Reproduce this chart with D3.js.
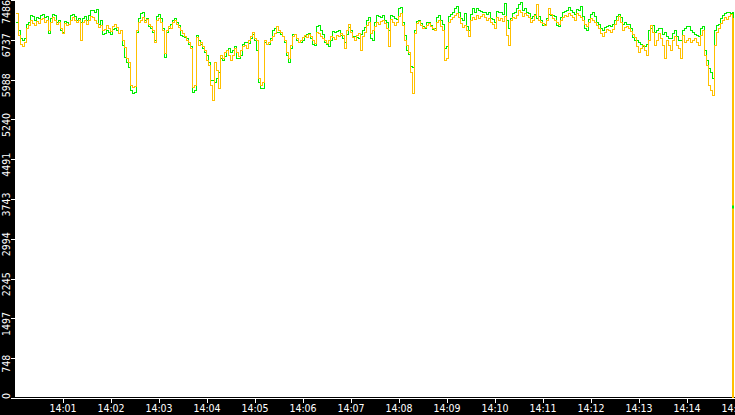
<!DOCTYPE html>
<html>
<head>
<meta charset="utf-8">
<script src="https://cdn.jsdelivr.net/npm/d3@7"></script>
<style>
  body { margin: 0; background: #000; overflow: hidden; }
  svg { display: block; }
  text { font-family: "DejaVu Sans Condensed", "DejaVu Sans", sans-serif; font-stretch: condensed; font-size: 10.5px; fill: #fff; }
</style>
</head>
<body>
<svg id="chart" width="735" height="415"></svg>
<script>
// main samples every 5 s from 14:00:02, the "mid" samples sit 2.5 s after each one,
// the last point is the drop at 14:14:59
const startTime = new Date(2024, 0, 1, 14, 0, 2);
const stepSeconds = 5;
const endTime = new Date(2024, 0, 1, 14, 14, 59);

const yTickLabels = [0, 748, 1497, 2245, 2994, 3743, 4491, 5240, 5988, 6737, 7486];
const xTickMinutes = [1, 2, 3, 4, 5, 6, 7, 8, 9, 10, 11, 12, 13, 14, 15];

const yellowValues = [
  7241, 6658, 6696, 7016, 7053, 7091, 7129, 7072, 6922, 7166,
  7035, 6959, 7053, 7035, 7166, 7072, 6734, 7110, 7110, 7166,
  7053, 7016, 6941, 6959, 6997, 6978, 6922, 6602, 6320, 5850,
  6922, 7110, 7072, 7035, 6922, 7110, 7072, 6489, 6997, 7072,
  7035, 6922, 6809, 6696, 5850, 6790, 6696, 6546, 6263, 5605,
  6169, 6451, 6508, 6451, 6451, 6508, 6546, 6640, 6734, 6884,
  6734, 5887, 6734, 6696, 6809, 6997, 6884, 6734, 6395, 6809,
  6771, 6734, 6828, 6846, 6734, 6884, 6809, 6734, 6734, 6790,
  6828, 6865, 6583, 7035, 6790, 6828, 6546, 6884, 7072, 6922,
  7072, 7091, 7053, 6621, 7072, 7072, 7241, 6734, 6508, 5737,
  7053, 7016, 6978, 7053, 6959, 7072, 6997, 6357, 7072, 7166,
  7241, 7053, 7016, 6809, 7166, 7204, 7185, 7166, 7147, 7035,
  7166, 7147, 7185, 6640, 7166, 7204, 7260, 7241, 7166, 7110,
  7411, 7072, 7016, 7336, 7147, 7072, 7110, 7204, 7241, 7166,
  7241, 7166, 7035, 7072, 7110, 7016, 6865, 6884, 6922, 6941,
  7110, 7072, 6978, 6959, 6846, 6621, 6583, 6546, 6734, 6884,
  6734, 6771, 6395, 6640, 6734, 6640, 6395, 6696, 6771, 6734,
  6696, 6828, 6451, 5887, 5699, 6884, 7053, 7166, 7185, 7147
];
const yellowMidValues = [
  6828, 6621, 6959, 7110, 7016, 7053, 7147, 7110, 7072, 7110,
  7072, 6865, 7016, 7110, 7110, 7110, 7072, 7035, 7185, 7110,
  6978, 6922, 7016, 6903, 7035, 6865, 6734, 6395, 5887, 5868,
  7072, 7166, 7129, 6997, 6696, 7147, 6922, 6922, 6959, 7110,
  6978, 6865, 6734, 6583, 5887, 6640, 6621, 6357, 5887, 6320,
  5831, 6395, 6546, 6357, 6583, 6433, 6621, 6583, 6809, 6771,
  6019, 5944, 6658, 6734, 6865, 6922, 6809, 6508, 6640, 6846,
  6696, 6790, 6790, 6809, 6677, 6865, 6771, 6677, 6809, 6752,
  6809, 6828, 6922, 6884, 6734, 6865, 6809, 7016, 6865, 6997,
  7035, 7110, 6959, 7129, 7016, 7185, 7016, 6640, 6132, 6865,
  7091, 6959, 7016, 6997, 6922, 7110, 6922, 6395, 7129, 7204,
  7166, 6978, 6922, 7110, 7129, 7147, 7223, 7110, 7072, 6959,
  7110, 7091, 6828, 7110, 7147, 7298, 7185, 7204, 7072, 7204,
  7110, 7053, 7110, 7223, 7110, 7035, 7166, 7185, 7204, 7110,
  7204, 7110, 6997, 7147, 7072, 6959, 6809, 6941, 6884, 7035,
  7185, 6922, 6997, 6903, 6790, 6508, 6640, 6451, 7016, 6640,
  6865, 6640, 6734, 6546, 6809, 6583, 6828, 6734, 6696, 6771,
  6640, 6922, 6263, 5793, 6640, 6959, 7110, 7129, 7223
];
const yellowLast = 0;

const greenValues = [
  7072, 6771, 6771, 7072, 7185, 7166, 7204, 7166, 6865, 7223,
  7072, 6922, 7091, 7035, 7223, 7110, 7072, 7185, 7204, 7298,
  7317, 7110, 6865, 6884, 6941, 6922, 6922, 6414, 6226, 5737,
  6884, 7241, 7110, 6997, 6884, 7185, 7147, 6414, 6959, 7110,
  7072, 6828, 6790, 6658, 5756, 6828, 6658, 6508, 6320, 5981,
  6019, 6395, 6433, 6583, 6546, 6395, 6451, 6696, 6677, 6846,
  6546, 5831, 6696, 6658, 6922, 6884, 6846, 6696, 6320, 6846,
  6734, 6696, 6809, 6865, 6658, 6997, 6922, 6696, 6621, 6903,
  6903, 6828, 6696, 6978, 6809, 6790, 6846, 6978, 7166, 6734,
  7204, 7166, 7110, 6922, 7185, 7129, 7354, 6828, 6470, 6226,
  7091, 7053, 6959, 7072, 6941, 7166, 7110, 6583, 7185, 7260,
  7373, 7147, 7241, 6922, 7336, 7336, 7279, 7260, 7260, 7129,
  7279, 7260, 7430, 6959, 7241, 7336, 7448, 7336, 7241, 7185,
  7147, 7110, 7035, 7223, 7204, 7016, 7166, 7279, 7354, 7260,
  7317, 7373, 6959, 7129, 7260, 7072, 6959, 6978, 7016, 7035,
  7185, 7166, 7072, 7035, 6790, 6734, 6658, 6621, 6922, 7016,
  6922, 6959, 6884, 6771, 6865, 6809, 6734, 6959, 6997, 6884,
  6828, 6959, 6546, 6207, 6019, 7016, 7147, 7241, 7260, 7260
];
const greenMidValues = [
  6922, 6734, 7035, 7204, 7110, 7147, 7223, 7185, 7147, 7204,
  7110, 6884, 7072, 7204, 7185, 7147, 7147, 7110, 7298, 7260,
  7035, 6846, 6922, 6846, 6959, 6865, 6640, 6320, 5793, 5756,
  7147, 7260, 7147, 6959, 6734, 7223, 6959, 6884, 7035, 7147,
  7016, 6809, 6771, 6621, 5793, 6734, 6583, 6451, 5981, 5944,
  6132, 6357, 6546, 6508, 6621, 6395, 6658, 6696, 6771, 6734,
  5944, 5831, 6658, 6771, 6959, 6884, 6809, 6451, 6583, 6846,
  6696, 6734, 6846, 6771, 6640, 7016, 6846, 6658, 6734, 6884,
  6922, 6771, 6846, 6922, 6809, 6771, 6922, 7110, 6771, 7072,
  7185, 7204, 7072, 7204, 7147, 7336, 7072, 6546, 6245, 6922,
  7110, 6997, 7072, 7016, 6959, 7204, 7035, 6621, 7223, 7336,
  7260, 7110, 6997, 7223, 7260, 7298, 7260, 7223, 7147, 7072,
  7260, 7223, 7110, 7147, 7260, 7411, 7298, 7260, 7147, 7223,
  7185, 7016, 7147, 7204, 7185, 6997, 7260, 7298, 7298, 7223,
  7298, 7185, 6922, 7223, 7185, 7035, 6922, 6997, 6997, 7110,
  7223, 7035, 7035, 6959, 6734, 6696, 6621, 6658, 6959, 6884,
  6959, 6846, 6809, 6771, 6922, 6734, 6922, 6997, 6922, 6846,
  6809, 6997, 6357, 6132, 6922, 7035, 7204, 7260, 7241
];
const greenLast = 3592;

const width = 735;
const height = 415;
const plotLeft = 15;
const plotBottom = 398;

const svg = d3.select("#chart");

svg.append("rect").attr("width", width).attr("height", height).attr("fill", "#000");
svg.append("rect")
  .attr("x", plotLeft).attr("y", 0)
  .attr("width", width - plotLeft).attr("height", plotBottom - 1)
  .attr("fill", "#fff");

const x = d3.scaleTime()
  .domain([new Date(2024, 0, 1, 14, 0, 0), new Date(2024, 0, 1, 14, 15, 0)])
  .range([14.5, 734.5]);

const y = d3.scaleLinear()
  .domain([0, d3.max(yTickLabels)])
  .range([plotBottom + 0.5, 0.5]);

function buildSeries(values, mids, last) {
  const pts = [];
  values.forEach((v, i) => {
    const t0 = +startTime + i * stepSeconds * 1000;
    pts.push({ t: new Date(t0), v: v });
    if (i < mids.length) pts.push({ t: new Date(t0 + stepSeconds * 500), v: mids[i] });
  });
  pts.push({ t: endTime, v: last });
  return pts;
}

const line = d3.line()
  .x(d => x(d.t))
  .y(d => y(d.v))
  .curve(d3.curveStepAfter);

const plot = svg.append("g");

const greenSeries = buildSeries(greenValues, greenMidValues, greenLast);
const yellowSeries = buildSeries(yellowValues, yellowMidValues, yellowLast);

plot.append("path")
  .datum(greenSeries)
  .attr("fill", "none")
  .attr("stroke", "#00ee00")
  .attr("stroke-width", 1)
  .attr("shape-rendering", "crispEdges")
  .attr("d", line);

plot.append("path")
  .datum(yellowSeries)
  .attr("fill", "none")
  .attr("stroke", "#ffc000")
  .attr("stroke-width", 1)
  .attr("shape-rendering", "crispEdges")
  .attr("d", line);

// final drop, drawn as a 2px bar so it stays visible at the right edge
const dropX = x(endTime);
plot.append("rect")
  .attr("x", Math.floor(dropX) - 1)
  .attr("y", y(yellowSeries[yellowSeries.length - 2].v))
  .attr("width", 2)
  .attr("height", y(yellowLast) - y(yellowSeries[yellowSeries.length - 2].v))
  .attr("fill", "#ffc000");
plot.append("rect")
  .attr("x", Math.floor(dropX) - 1)
  .attr("y", y(greenLast) - 2)
  .attr("width", 2)
  .attr("height", 3)
  .attr("fill", "#00ee00");

// bottom axis line
svg.append("line")
  .attr("x1", 11).attr("x2", width)
  .attr("y1", plotBottom + 0.5).attr("y2", plotBottom + 0.5)
  .attr("stroke", "#fff")
  .attr("shape-rendering", "crispEdges");

// x axis
const xAxis = svg.append("g")
  .attr("transform", `translate(0,${plotBottom + 1})`)
  .call(d3.axisBottom(x)
    .tickValues(xTickMinutes.map(m => new Date(2024, 0, 1, 14, m, 0)))
    .tickSize(4)
    .tickFormat(d3.timeFormat("%H:%M")));
xAxis.select(".domain").remove();
xAxis.attr("font-family", null).attr("font-size", null);
xAxis.selectAll("line").attr("stroke", "#fff").attr("shape-rendering", "crispEdges");
xAxis.selectAll("text").attr("fill", "#fff").attr("y", 6);

// y axis, labels turned and kept inside the strip
const yAxis = svg.append("g")
  .attr("transform", `translate(${plotLeft},0)`)
  .call(d3.axisLeft(y)
    .tickValues(yTickLabels)
    .tickSize(4)
    .tickFormat(d => d));
yAxis.select(".domain").remove();
yAxis.attr("font-family", null).attr("font-size", null);
yAxis.selectAll("line").attr("stroke", "#fff").attr("shape-rendering", "crispEdges");
yAxis.selectAll(".tick").each(function (d) {
  const ty = y(d);
  const tick = d3.select(this);
  tick.attr("transform", "translate(0,0)");
  tick.select("line").attr("y1", ty).attr("y2", ty);
  const txt = tick.select("text")
    .attr("fill", "#fff")
    .attr("x", null).attr("dy", null)
    .attr("text-anchor", "middle");
  const len = txt.node().getComputedTextLength();
  let cy = ty + 5;
  cy = Math.max(len / 2, Math.min(plotBottom + 1 - len / 2, cy));
  txt.attr("transform", `translate(${-5},${cy}) rotate(-90)`);
});
</script>
</body>
</html>
